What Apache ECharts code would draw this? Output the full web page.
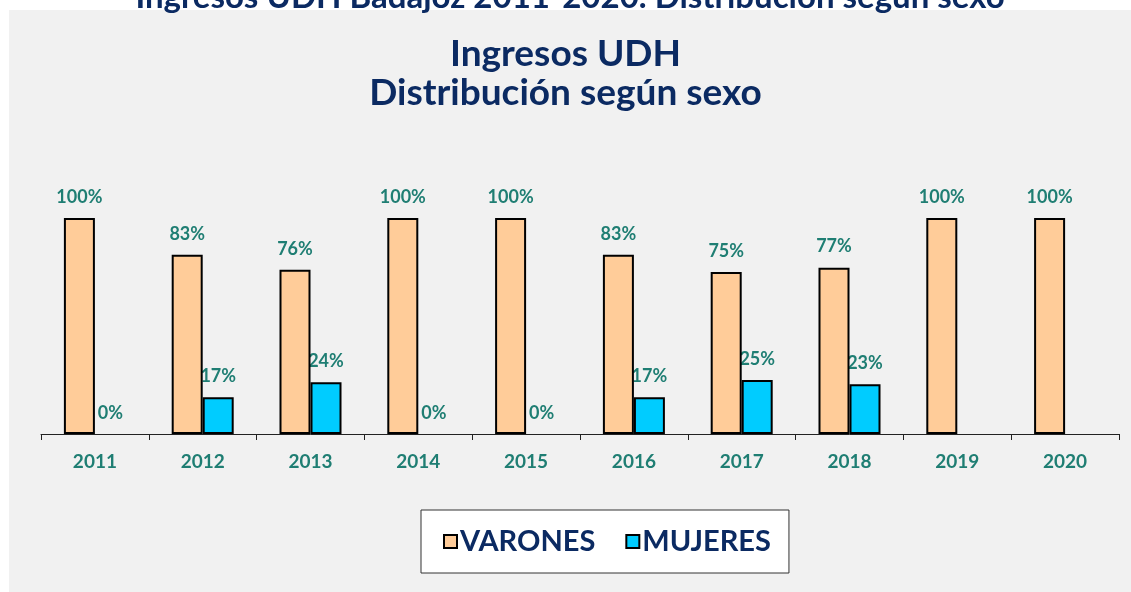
<!DOCTYPE html>
<html>
<head>
<meta charset="utf-8">
<script src="https://cdn.jsdelivr.net/npm/echarts@6/dist/echarts.min.js"></script>
<style>
  html, body { margin: 0; padding: 0; background: #fff; }
  #main { width: 1131px; height: 592px; }
</style>
</head>
<body>
<div id="main"></div>
<script>
// datos
const years = ['2011', '2012', '2013', '2014', '2015', '2016', '2017', '2018', '2019', '2020'];
const varones = [100, 83, 76, 100, 100, 83, 75, 77, 100, 100];
const mujeres = [0, 17, 24, 0, 0, 17, 25, 23, null, null];

const navy = '#0b2a62';
const teal = '#1f7e73';
const font = 'Lato';

const chart = echarts.init(document.getElementById('main'));

const labelStyle = {
  show: true,
  position: 'top',
  distance: 12,
  formatter: '{c}%',
  color: teal,
  fontFamily: font,
  fontWeight: 'bold',
  fontSize: 18
};

// barras a cero sin borde (en el original no se ven)
const toItems = arr => arr.map(v => v === 0 ? { value: 0, itemStyle: { borderWidth: 0 } } : v);

chart.setOption({
  backgroundColor: '#ffffff',
  animation: false,
  graphic: [
    {
      type: 'rect',
      z: -10,
      shape: { x: 9, y: 10, width: 1122, height: 582 },
      style: { fill: '#f1f1f1' }
    },
    {
      type: 'text',
      z: 10,
      x: 570,
      y: 14,
      style: {
        text: 'Ingresos UDH Badajoz 2011-2020. Distribución según sexo',
        fill: navy,
        font: 'bold 33px Lato',
        align: 'center',
        verticalAlign: 'bottom'
      }
    }
  ],
  title: {
    text: 'Ingresos UDH\nDistribución según sexo',
    left: 'center',
    top: 30,
    textStyle: {
      color: navy,
      fontFamily: font,
      fontWeight: 'bold',
      fontSize: 37,
      lineHeight: 39
    }
  },
  legend: {
    left: 421,
    top: 510,
    padding: [17, 18, 17, 22],
    backgroundColor: '#ffffff',
    borderColor: '#333',
    borderWidth: 1,
    borderRadius: 0,
    itemWidth: 13,
    itemHeight: 13,
    itemGap: 30,
    icon: 'rect',
    textStyle: {
      color: navy,
      fontFamily: font,
      fontWeight: 'bold',
      fontSize: 29,
      padding: [0, 0, 0, -2]
    },
    data: ['VARONES', 'MUJERES']
  },
  grid: {
    left: 41,
    right: 12,
    top: 218,
    bottom: 158,
    containLabel: false
  },
  xAxis: {
    type: 'category',
    data: years,
    axisLine: { lineStyle: { color: '#222', width: 1 } },
    axisTick: { show: true, length: 6, lineStyle: { color: '#222' } },
    axisLabel: {
      color: teal,
      fontFamily: font,
      fontWeight: 'bold',
      fontSize: 19,
      margin: 18
    }
  },
  yAxis: {
    type: 'value',
    min: 0,
    max: 100,
    show: false,
    splitLine: { show: false }
  },
  series: [
    {
      name: 'VARONES',
      type: 'bar',
      z: 3,
      data: toItems(varones),
      barWidth: 31,
      barGap: '0%',
      itemStyle: { color: '#ffcc99', borderColor: '#000', borderWidth: 2 },
      label: labelStyle
    },
    {
      name: 'MUJERES',
      type: 'bar',
      z: 2,
      data: toItems(mujeres),
      barWidth: 31,
      barGap: '0%',
      itemStyle: { color: '#00ccff', borderColor: '#000', borderWidth: 2 },
      label: labelStyle
    }
  ]
});
</script>
</body>
</html>
